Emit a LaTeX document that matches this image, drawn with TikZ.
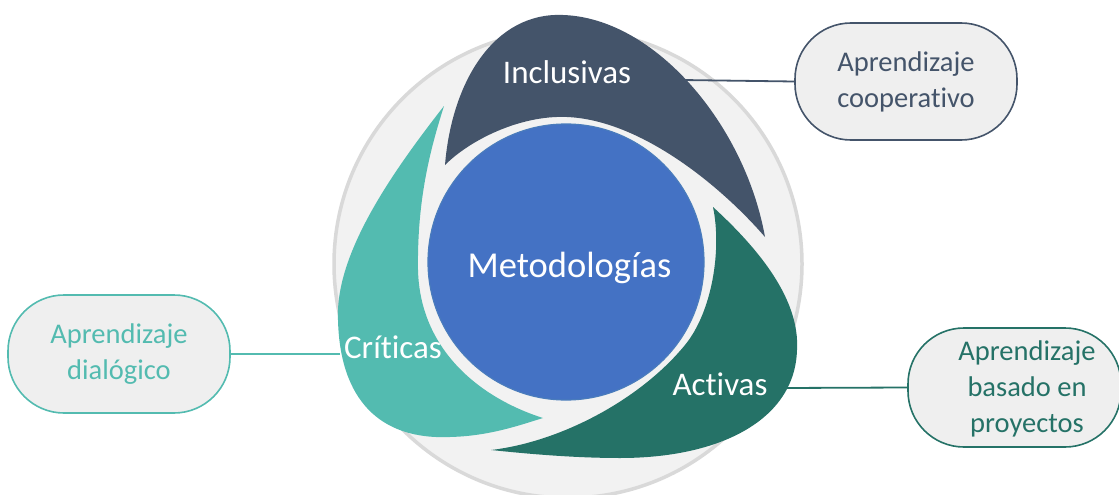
\documentclass[tikz,border=0pt]{standalone}
\usepackage{fontspec}
\setmainfont{Carlito}[Ligatures=NoCommon]
\definecolor{inclcol}{HTML}{44546A}
\definecolor{critcol}{HTML}{53BBB0}
\definecolor{actcol}{HTML}{257267}
\definecolor{metblue}{HTML}{4472C4}
\definecolor{metedge}{HTML}{4A7CBC}
\definecolor{ringfill}{HTML}{F2F2F2}
\definecolor{ringedge}{HTML}{D9D9D9}
\definecolor{boxfill}{HTML}{EFEFEF}
\begin{document}
\begin{tikzpicture}[x=1pt,y=-1pt,
  callout/.style={draw, line width=1.6pt, fill=boxfill, rounded corners=56pt,
    inner sep=0pt, align=center, font=\fontsize{28.5}{36}\selectfont},
  calltext/.style={inner sep=0pt, align=center, font=\fontsize{28.5}{36}\selectfont},
  lbl/.style={text=white, inner sep=0pt, anchor=base, font=\fontsize{33}{38}\selectfont},
  link/.style={line width=1.8pt}]
\useasboundingbox (0,0) rectangle (1119,495);
\clip (0,0) rectangle (1119,495);

% background ring
\node[circle, fill=ringfill, draw=ringedge, line width=3.5pt,
      minimum size=468pt, inner sep=0pt] (ring) at (568,264) {};

% anchor points on the three blades
\coordinate (incl-port) at (682,80);
\coordinate (crit-port) at (340,354);
\coordinate (act-port) at (783,388);

% callouts
\node[callout, draw=inclcol, text=inclcol, minimum width=222pt, minimum height=117pt]
  (coop) at (906,81.5) {Aprendizaje\\cooperativo};
\node[callout, draw=critcol, text=critcol, minimum width=222pt, minimum height=118pt]
  (dial) at (119,354) {Aprendizaje\\dialógico};
\node[callout, draw=actcol, minimum width=213pt, minimum height=119pt]
  (proy) at (1014.5,387.5) {};
\node[calltext, text=actcol] (proy-text) at (1027,389) {Aprendizaje\\basado en\\proyectos};

% connectors
\draw[link, inclcol] (incl-port) -- (coop.west);
\draw[link, critcol] (crit-port) -- (dial.east);
\draw[link, actcol] (act-port) -- (proy.west);

% Inclusivas blade
\fill[inclcol] (445,165) .. controls (452,80) and (495,12) .. (563,15)
  .. controls (655,18) and (745,125) .. (765,237)
  .. controls (720,185) and (640,120) .. (567,117)
  .. controls (520,115) and (470,140) .. (445,165) -- cycle;

% Criticas blade
\fill[critcol] (444,106) .. controls (390,175) and (335,255) .. (338,320)
  .. controls (340,400) and (380,440) .. (450,437)
  .. controls (490,436) and (520,425) .. (543,418)
  .. controls (480,398) and (420,350) .. (418,270)
  .. controls (417,200) and (430,150) .. (444,106) -- cycle;

% Activas blade
\fill[actcol] (713,207) .. controls (760,250) and (800,300) .. (797,350)
  .. controls (795,420) and (720,458) .. (620,458)
  .. controls (570,458) and (520,453) .. (491,450)
  .. controls (560,442) and (640,400) .. (685,345)
  .. controls (712,312) and (722,250) .. (713,207) -- cycle;

% centre
\node[circle, fill=metblue, draw=metedge, line width=1.2pt,
      minimum size=276pt, inner sep=0pt] (met) at (566,262) {};
\node[lbl, font=\fontsize{36.5}{42}\selectfont] (met-lbl) at (569.5,277) {Metodologías};

% blade labels
\node[lbl] (incl-lbl) at (567,83) {Inclusivas};
\node[lbl] (crit-lbl) at (393,358) {Críticas};
\node[lbl] (act-lbl) at (720,395) {Activas};
\end{tikzpicture}
\end{document}
